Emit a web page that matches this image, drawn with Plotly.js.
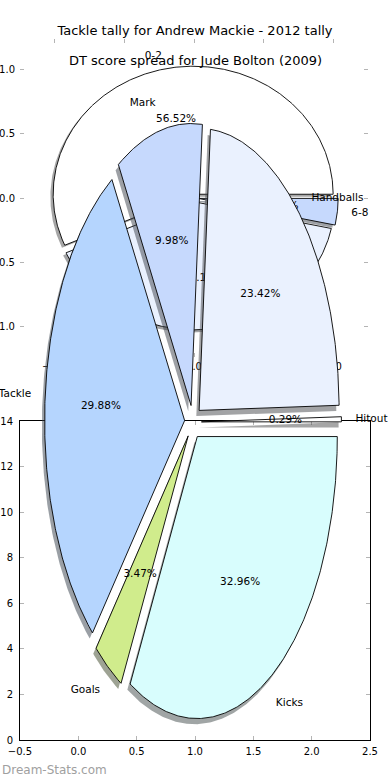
<!DOCTYPE html>
<html><head><meta charset="utf-8">
<script src="https://cdn.plot.ly/plotly-3.0.1.min.js"></script>
<style>html,body{margin:0;padding:0;background:#fff}#chart{width:390px;height:780px}</style>
</head><body><div id="chart"></div>
<script>
// Main pie: Tackle tally for Andrew Mackie - 2012 tally (percent of total)
const tallyLabels = ['Hitout', 'Handballs', 'Mark', 'Tackle', 'Goals', 'Kicks'];
const tallyValues = [0.29, 23.42, 9.98, 29.88, 3.47, 32.96];
const tallyColors = ['#ffffff', '#eaf1fe', '#c6d9fd', '#b5d5fe', '#d0ec8c', '#d8fdfd'];

// Second pie: DT score spread for Jude Bolton (2009) (mostly hidden)
const dtLabels = ['0-2', '2-6', '6-8'];
const dtValues = [56.52, 40.14, 3.34];
const dtColors = ['#ffffff', '#eaf1fe', '#c6d9fd'];

// Tick values
const dtTicks = [-1.0, -0.5, 0.0, 0.5, 1.0];
const tallyXTicks = [-0.5, 0, 0.5, 1, 1.5, 2, 2.5];
const tallyYTicks = [0, 2, 4, 6, 8, 10, 12, 14];

const titleMain = 'Tackle tally for Andrew Mackie - 2012 tally';
const titleDT = 'DT score spread for Jude Bolton (2009)';
const watermark = 'Dream-Stats.com';

// ---- layout geometry (pixels) ----
const W = 390, H = 780;
const FONT = 'DejaVu Sans, Verdana, sans-serif';
const pieC = {cx: 193, cy: 422, rx: 140, ry: 282};   // main pie frame

function hexToRgb(h) {
  const n = parseInt(h.slice(1), 16);
  return [(n >> 16) & 255, (n >> 8) & 255, n & 255];
}

function pieTraces(labels, values, colors, explode, xa, ya) {
  const total = values.reduce((a, b) => a + b, 0);
  const shadows = [], wedges = [];
  const nx = [], ny = [], npos = [], px = [], py = [], ptxt = [];
  let theta = 0;
  values.forEach((v, i) => {
    const span = v / total * 360;
    const t1 = theta, t2 = theta + span;
    theta = t2;
    const mid = (t1 + t2) / 2 * Math.PI / 180;
    const dx = explode * Math.cos(mid), dy = explode * Math.sin(mid);
    const n = Math.max(4, Math.ceil(span / 0.5));
    const xs = [dx], ys = [dy];
    for (let k = 0; k <= n; k++) {
      const a = (t1 + (t2 - t1) * k / n) * Math.PI / 180;
      xs.push(dx + Math.cos(a)); ys.push(dy + Math.sin(a));
    }
    xs.push(dx); ys.push(dy);
    const c = hexToRgb(colors[i]);
    const sc = 'rgba(' + c.map(q => Math.round(q * 0.3)).join(',') + ',0.5)';
    shadows.push({type: 'scatter', mode: 'lines', xaxis: xa, yaxis: ya,
      x: xs.map(q => q - 0.02), y: ys.map(q => q - 0.02), fill: 'toself',
      fillcolor: sc, line: {color: 'rgba(0,0,0,0)', width: 0}, hoverinfo: 'skip', showlegend: false});
    wedges.push({type: 'scatter', mode: 'lines', xaxis: xa, yaxis: ya,
      x: xs, y: ys, fill: 'toself', fillcolor: colors[i],
      line: {color: '#000000', width: 0.9}, hoverinfo: 'skip', showlegend: false});
    const cm = Math.cos(mid), sm = Math.sin(mid);
    nx.push(dx + 1.1 * cm); ny.push(dy + 1.1 * sm);
    npos.push(cm >= 0 ? 'middle right' : 'middle left');
    px.push(dx + 0.6 * cm); py.push(dy + 0.6 * sm);
    ptxt.push((v / total * 100).toFixed(2) + '%');
  });
  const nameT = {type: 'scatter', mode: 'text', xaxis: xa, yaxis: ya, x: nx, y: ny,
    text: labels, textposition: npos, cliponaxis: false,
    textfont: {family: FONT, size: 10.5, color: '#000'}, hoverinfo: 'skip', showlegend: false};
  const pctT = {type: 'scatter', mode: 'text', xaxis: xa, yaxis: ya, x: px, y: py,
    text: ptxt, textposition: 'middle center', cliponaxis: false,
    textfont: {family: FONT, size: 10.5, color: '#000'}, hoverinfo: 'skip', showlegend: false};
  return shadows.concat(wedges, [nameT, pctT]);
}

const traces = []
  .concat(pieTraces(dtLabels, dtValues, dtColors, 0.03, 'x', 'y'))
  .concat([{type: 'scatter', mode: 'markers', x: [null], y: [null], xaxis: 'x2', yaxis: 'y2',
            hoverinfo: 'skip', showlegend: false}])
  .concat(pieTraces(tallyLabels, tallyValues, tallyColors, 0.06, 'x3', 'y3'));

const tickFont = {family: FONT, size: 10, color: '#000'};
const TC = '#b4b4b4';
const baseAx = {showgrid: false, zeroline: false, ticks: 'inside', ticklen: 4, tickwidth: 1,
  tickcolor: TC, tickfont: tickFont, fixedrange: true, mirror: 'ticks'};

const layout = {
  width: W, height: H,
  margin: {l: 0, r: 0, t: 0, b: 0, pad: 0},
  paper_bgcolor: '#ffffff', plot_bgcolor: 'rgba(0,0,0,0)',
  showlegend: false,
  title: {text: titleMain, font: {family: FONT, size: 13, color: '#000'},
    x: 0.5, xanchor: 'center', xref: 'container', y: 1 - 30 / H, yanchor: 'middle', yref: 'container'},
  // DT pie axes (no frame, grey ticks)
  xaxis: Object.assign({}, baseAx, {domain: [20 / W, 368 / W], range: [-1.243, 1.243], anchor: 'y',
    tickvals: dtTicks, tickformat: '.1f', showline: false, ticklabelstandoff: 2}),
  yaxis: Object.assign({}, baseAx, {domain: [(H - 357) / H, (H - 39) / H], range: [-1.242, 1.242], anchor: 'x',
    tickvals: dtTicks, tickformat: '.1f', showline: false, ticklabelstandoff: 4}),
  // Tackle tally axes (framed)
  xaxis2: Object.assign({}, baseAx, {domain: [20 / W, 370 / W], range: [-0.5, 2.5], anchor: 'y2',
    tickvals: tallyXTicks, tickformat: '.1f', showline: true, linecolor: '#000', linewidth: 1,
    ticklabelstandoff: 2}),
  yaxis2: Object.assign({}, baseAx, {domain: [(H - 740) / H, (H - 421) / H], range: [0, 14], anchor: 'x2',
    tickvals: tallyYTicks, tickformat: 'd', showline: true, linecolor: '#000', linewidth: 1,
    ticklabelstandoff: 4}),
  // main pie frame (invisible)
  xaxis3: {domain: [0, 1], anchor: 'y3', visible: false, fixedrange: true,
    range: [-pieC.cx / pieC.rx, (W - pieC.cx) / pieC.rx]},
  yaxis3: {domain: [0, 1], anchor: 'x3', visible: false, fixedrange: true,
    range: [-(H - pieC.cy) / pieC.ry, pieC.cy / pieC.ry]},
  annotations: [
    {text: titleDT, xref: 'paper', yref: 'paper', x: 0.5, y: 1 - 61 / H, xanchor: 'center', yanchor: 'middle',
     showarrow: false, font: {family: FONT, size: 13, color: '#000'}},
    {text: watermark, xref: 'paper', yref: 'paper', x: 0, y: 1 - 770 / H, xanchor: 'left', yanchor: 'middle',
     showarrow: false, font: {family: FONT, size: 12, color: '#a0a0a0'}}
  ]
};

Plotly.newPlot('chart', traces, layout, {displayModeBar: false, staticPlot: true});
</script>
</body></html>
